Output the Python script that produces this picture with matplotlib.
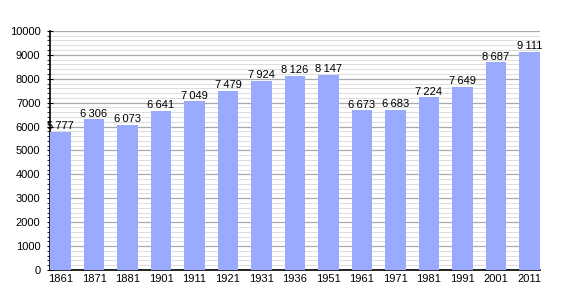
import numpy as np
import matplotlib
matplotlib.use("Agg")
import matplotlib.pyplot as plt
from matplotlib.ticker import MultipleLocator

years = ["1861", "1871", "1881", "1901", "1911", "1921", "1931", "1936",
         "1951", "1961", "1971", "1981", "1991", "2001", "2011"]
population = [5777, 6306, 6073, 6641, 7049, 7479, 7924, 8126,
              8147, 6673, 6683, 7224, 7649, 8687, 9111]

plt.rcParams["font.family"] = ["Liberation Sans", "DejaVu Sans"]

fig = plt.figure(figsize=(5.7, 3.0), dpi=100)
ax = fig.add_axes([0.088, 0.1, 0.859, 0.797])

x = np.arange(len(years))
width = 0.62
ax.bar(x, population, width=width, color="#99aaff", zorder=3)

# value labels with thin space as thousands separator
for xi, v in zip(x, population):
    s = f"{v:,}".replace(",", "\u2009")
    ax.text(xi, v + 30, s, ha="center", va="bottom", fontsize=8, zorder=4)

ax.set_xlim(-width / 2, len(years) - 1 + width / 2)
ax.set_ylim(0, 10000)
ax.set_xticks(x)
ax.set_xticklabels(years, fontsize=8)
ax.tick_params(axis="x", length=0, pad=3)

ax.yaxis.set_major_locator(MultipleLocator(1000))
ax.yaxis.set_minor_locator(MultipleLocator(200))
ax.tick_params(axis="y", which="major", labelsize=8, length=4, direction="inout", pad=5)
ax.tick_params(axis="y", which="minor", length=2, direction="out")

ax.grid(axis="y", which="major", color="#aaaaaa", linewidth=0.9, zorder=0)
ax.grid(axis="y", which="minor", color="#dddddd", linewidth=0.7, zorder=0)

for side in ["top", "right"]:
    ax.spines[side].set_visible(False)
ax.spines["left"].set_linewidth(1.2)
ax.spines["bottom"].set_linewidth(1.2)

fig.savefig("out.png", dpi=100)
